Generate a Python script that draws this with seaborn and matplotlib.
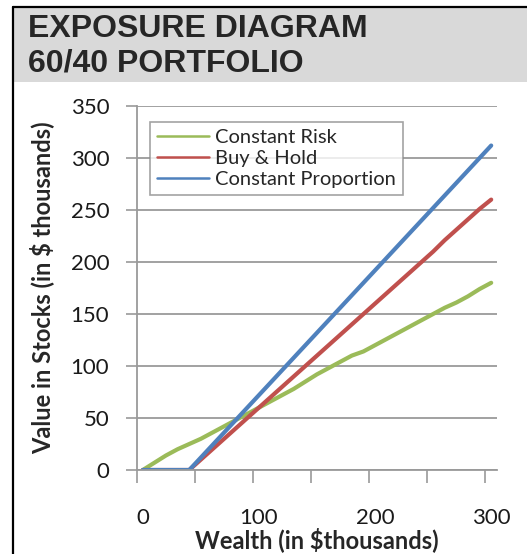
import matplotlib
matplotlib.use("Agg")
import matplotlib.pyplot as plt
import seaborn as sns
import pandas as pd
from matplotlib.lines import Line2D
from matplotlib.patches import Rectangle
from matplotlib.ticker import NullFormatter

# Data (values in $ thousands)
wealth = [0, 10, 20, 30, 40, 50, 60, 70, 80, 90, 100, 110, 120, 130, 140, 150,
          160, 170, 180, 190, 200, 210, 220, 230, 240, 250, 260, 270, 280, 290, 300]
constant_risk = [0, 7, 14, 20, 25, 30, 36, 42, 48, 54, 60, 66, 72, 78, 85, 92,
                 98, 104, 110, 114, 120, 126, 132, 138, 144, 150, 156, 161, 167, 174, 180]
buy_hold = [0, 0, 0, 0, 0, 10, 20, 30, 40, 50, 60, 70, 80, 90, 100, 110,
            120, 130, 140, 150, 160, 170, 180, 190, 200, 210, 221, 231, 241, 251, 260]
constant_prop = [0, 0, 0, 0, 0, 12, 24, 36, 48, 60, 72, 84, 96, 108, 120, 132,
                 144, 156, 168, 180, 192, 204, 216, 228, 240, 252, 264, 276, 288, 300, 312]

series_names = ["Constant Risk", "Buy & Hold", "Constant Proportion"]
series_colors = ["#9BBB59", "#C0504D", "#4F81BD"]
y_ticks = [0, 50, 100, 150, 200, 250, 300, 350]
x_tick_marks = [-5, 45, 95, 145, 195, 245, 295]
x_labels = [0, 100, 200, 300]

df = pd.DataFrame({
    "Wealth": wealth * 3,
    "Value": constant_risk + buy_hold + constant_prop,
    "Series": [name for name in series_names for _ in wealth],
})

sns.set_style("white")
plt.rcParams["font.family"] = ["Lato", "DejaVu Sans"]

W, H = 527, 554
fig = plt.figure(figsize=(W / 100, H / 100), dpi=100)

# grey header band and black frame lines (top / left)
fig.add_artist(Rectangle((14 / W, 1 - 82 / H), 1, 75 / H, transform=fig.transFigure,
                         facecolor="#D9D9D9", edgecolor="none", zorder=0))
fig.add_artist(Line2D([13 / W, 1], [1 - 7 / H, 1 - 7 / H], transform=fig.transFigure,
                      color="black", lw=1.6))
fig.add_artist(Line2D([13 / W, 13 / W], [0, 1 - 7 / H], transform=fig.transFigure,
                      color="black", lw=1.6))
fig.text(28 / W, 1 - 37 / H, "EXPOSURE DIAGRAM", family="Liberation Sans",
         weight="bold", fontsize=23, va="baseline", ha="left")
fig.text(28 / W, 1 - 72 / H, "60/40 PORTFOLIO", family="Liberation Sans",
         weight="bold", fontsize=23, va="baseline", ha="left")

ax = fig.add_axes([137 / W, 1 - 470 / H, 360 / W, 364 / H])
sns.lineplot(data=df, x="Wealth", y="Value", hue="Series", hue_order=series_names,
             palette=series_colors, linewidth=3, ax=ax, legend=False)

ax.set_xlim(-5, 305)
ax.set_ylim(0, 350)
ax.set_yticks(y_ticks)
ax.set_xticks(x_tick_marks)
ax.xaxis.set_major_formatter(NullFormatter())
ax.set_xticks(x_labels, minor=True)
ax.set_xticklabels([str(v) for v in x_labels], minor=True)

grid_c = "#9A9A9A"
ax.yaxis.grid(True, color=grid_c, lw=1.3)
ax.xaxis.grid(False)
for s in ["top", "right"]:
    ax.spines[s].set_visible(False)
for s in ["left", "bottom"]:
    ax.spines[s].set_color(grid_c)
    ax.spines[s].set_linewidth(1.3)

ax.tick_params(axis="y", length=8, width=1.2, color=grid_c, pad=12,
               labelsize=16, labelcolor="#1a1a1a", left=True)
ax.tick_params(axis="x", which="major", length=9, width=1.2, color=grid_c,
               direction="out", bottom=True)
ax.tick_params(axis="x", which="minor", length=0, pad=27,
               labelsize=16, labelcolor="#1a1a1a")

ax.set_xlabel("Wealth (in $thousands)", fontsize=17, weight="bold", labelpad=0)
ax.set_ylabel("Value in Stocks (in $ thousands)", fontsize=17, weight="bold", labelpad=12)

handles = [Line2D([], [], color=c, lw=1.8) for c in series_colors]
leg = ax.legend(handles, series_names, loc="upper left",
                bbox_to_anchor=(150 / W, 1 - 122 / H), bbox_transform=fig.transFigure,
                frameon=True, fancybox=False, edgecolor="#8C8C8C", fontsize=14.5,
                handlelength=2.6, handletextpad=0.3, labelspacing=0.2,
                borderpad=0.35, borderaxespad=0)
leg.get_frame().set_linewidth(1.2)

fig.savefig("out.png", dpi=100)
